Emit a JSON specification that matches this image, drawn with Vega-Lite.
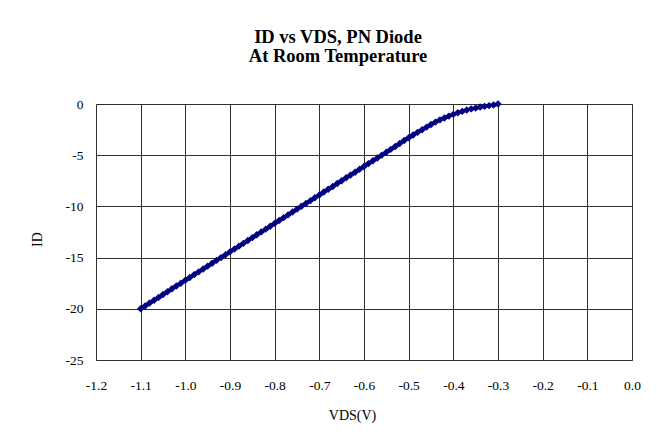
{
  "$schema": "https://vega.github.io/schema/vega-lite/v6.json",
  "width": 536,
  "height": 256,
  "autosize": {"type": "none"},
  "padding": {"left": 96, "top": 104, "right": 25, "bottom": 83},
  "background": "white",
  "title": {
    "text": ["ID vs VDS, PN Diode", "At Room Temperature"],
    "font": "Liberation Serif",
    "fontSize": 18.5,
    "fontWeight": "bold",
    "color": "black",
    "anchor": "middle",
    "frame": "group",
    "dx": -26,
    "offset": 32,
    "lineHeight": 19
  },
  "config": {
    "view": {"stroke": "#808080", "strokeWidth": 1},
    "axis": {
      "labelFont": "Liberation Serif",
      "labelFontSize": 13.5,
      "labelColor": "black",
      "titleFont": "Liberation Serif",
      "titleFontSize": 14,
      "titleFontWeight": "normal",
      "titleColor": "black",
      "domain": false,
      "ticks": false,
      "tickSize": 0,
      "grid": true,
      "gridColor": "#303030",
      "gridWidth": 1,
      "gridOpacity": 1
    }
  },
  "data": {
    "values": [
      {"vds": -1.10, "id": -20.00},
      {"vds": -1.09, "id": -19.72},
      {"vds": -1.08, "id": -19.44},
      {"vds": -1.07, "id": -19.17},
      {"vds": -1.06, "id": -18.89},
      {"vds": -1.05, "id": -18.61},
      {"vds": -1.04, "id": -18.33},
      {"vds": -1.03, "id": -18.05},
      {"vds": -1.02, "id": -17.78},
      {"vds": -1.01, "id": -17.50},
      {"vds": -1.00, "id": -17.22},
      {"vds": -0.99, "id": -16.94},
      {"vds": -0.98, "id": -16.66},
      {"vds": -0.97, "id": -16.39},
      {"vds": -0.96, "id": -16.11},
      {"vds": -0.95, "id": -15.83},
      {"vds": -0.94, "id": -15.55},
      {"vds": -0.93, "id": -15.27},
      {"vds": -0.92, "id": -15.00},
      {"vds": -0.91, "id": -14.72},
      {"vds": -0.90, "id": -14.44},
      {"vds": -0.89, "id": -14.16},
      {"vds": -0.88, "id": -13.88},
      {"vds": -0.87, "id": -13.61},
      {"vds": -0.86, "id": -13.33},
      {"vds": -0.85, "id": -13.05},
      {"vds": -0.84, "id": -12.77},
      {"vds": -0.83, "id": -12.49},
      {"vds": -0.82, "id": -12.22},
      {"vds": -0.81, "id": -11.94},
      {"vds": -0.80, "id": -11.66},
      {"vds": -0.79, "id": -11.38},
      {"vds": -0.78, "id": -11.10},
      {"vds": -0.77, "id": -10.83},
      {"vds": -0.76, "id": -10.55},
      {"vds": -0.75, "id": -10.27},
      {"vds": -0.74, "id": -9.99},
      {"vds": -0.73, "id": -9.71},
      {"vds": -0.72, "id": -9.44},
      {"vds": -0.71, "id": -9.16},
      {"vds": -0.70, "id": -8.88},
      {"vds": -0.69, "id": -8.60},
      {"vds": -0.68, "id": -8.32},
      {"vds": -0.67, "id": -8.05},
      {"vds": -0.66, "id": -7.77},
      {"vds": -0.65, "id": -7.49},
      {"vds": -0.64, "id": -7.21},
      {"vds": -0.63, "id": -6.93},
      {"vds": -0.62, "id": -6.66},
      {"vds": -0.61, "id": -6.38},
      {"vds": -0.60, "id": -6.10},
      {"vds": -0.59, "id": -5.82},
      {"vds": -0.58, "id": -5.54},
      {"vds": -0.57, "id": -5.27},
      {"vds": -0.56, "id": -4.99},
      {"vds": -0.55, "id": -4.71},
      {"vds": -0.54, "id": -4.43},
      {"vds": -0.53, "id": -4.15},
      {"vds": -0.52, "id": -3.86},
      {"vds": -0.51, "id": -3.57},
      {"vds": -0.50, "id": -3.30},
      {"vds": -0.49, "id": -3.03},
      {"vds": -0.48, "id": -2.77},
      {"vds": -0.47, "id": -2.51},
      {"vds": -0.46, "id": -2.26},
      {"vds": -0.45, "id": -2.01},
      {"vds": -0.44, "id": -1.77},
      {"vds": -0.43, "id": -1.55},
      {"vds": -0.42, "id": -1.36},
      {"vds": -0.41, "id": -1.18},
      {"vds": -0.40, "id": -1.01},
      {"vds": -0.39, "id": -0.86},
      {"vds": -0.38, "id": -0.72},
      {"vds": -0.37, "id": -0.59},
      {"vds": -0.36, "id": -0.48},
      {"vds": -0.35, "id": -0.39},
      {"vds": -0.34, "id": -0.30},
      {"vds": -0.33, "id": -0.23},
      {"vds": -0.32, "id": -0.16},
      {"vds": -0.31, "id": -0.09},
      {"vds": -0.30, "id": 0.00}
    ]
  },
  "encoding": {
    "x": {
      "field": "vds",
      "type": "quantitative",
      "scale": {"domain": [-1.2, 0], "nice": false, "zero": false},
      "axis": {
        "title": "VDS(V)",
        "values": [-1.2, -1.1, -1.0, -0.9, -0.8, -0.7, -0.6, -0.5, -0.4, -0.3, -0.2, -0.1, 0],
        "labelExpr": "datum.value < -0.00001 ? '-' + format(-datum.value, '.1f') : '0.0'",
        "labelPadding": 18,
        "labelFlush": false,
        "labelOverlap": false,
        "titleX": 256,
        "titleY": 55,
        "titleBaseline": "middle",
        "titleAlign": "center"
      }
    },
    "y": {
      "field": "id",
      "type": "quantitative",
      "scale": {"domain": [-25, 0], "nice": false, "zero": false},
      "axis": {
        "title": "ID",
        "values": [-25, -20, -15, -10, -5, 0],
        "labelExpr": "datum.value < 0 ? '-' + format(-datum.value, 'd') : '0'",
        "labelPadding": 13,
        "labelFlush": false,
        "labelOverlap": false,
        "titleX": -59,
        "titleY": 135,
        "titleAngle": -90,
        "titleBaseline": "middle",
        "titleAlign": "center"
      }
    }
  },
  "layer": [
    {"mark": {"type": "line", "color": "#000080", "strokeWidth": 3.5}},
    {"mark": {"type": "point", "shape": "diamond", "filled": true, "color": "#000080", "opacity": 1, "size": 55}}
  ]
}
